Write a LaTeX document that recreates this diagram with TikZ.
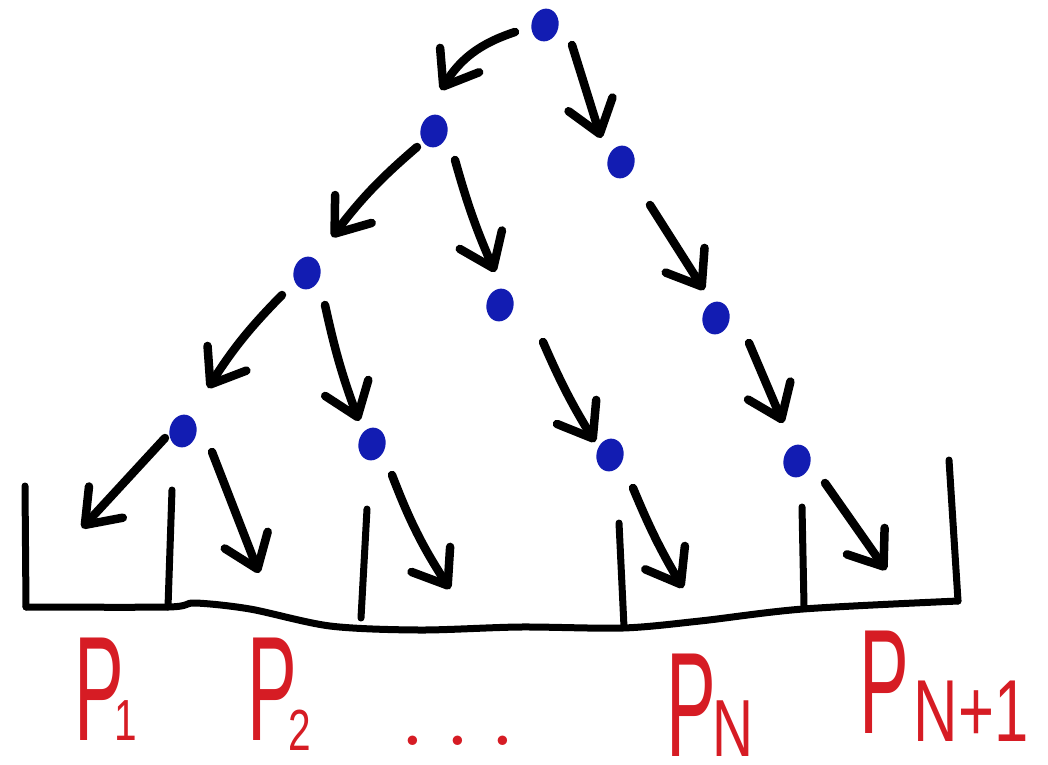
\documentclass[tikz,border=0pt]{standalone}
\usepackage{fontspec}
\setsansfont{Liberation Sans}
\usetikzlibrary{arrows.meta,shapes.geometric,calc}
\definecolor{dotblue}{RGB}{18,28,178}
\definecolor{labred}{RGB}{214,28,36}
\newcommand{\bigP}{\scalebox{0.5}[1]{\fontsize{149pt}{149pt}\selectfont P}}
\newcommand{\subtxt}[2]{\scalebox{0.7}[1]{\fontsize{#1}{#1}\selectfont #2}}
\newcommand{\nodepth}[1]{\raisebox{0pt}[\height][0pt]{#1}}
\begin{document}
\begin{tikzpicture}[x=1pt,y=-1pt,
  dot/.style={ellipse, fill=dotblue, draw=none, inner sep=0pt, minimum width=27pt, minimum height=33pt, rotate=-12},
  arr/.style={line width=8.5pt, line cap=round, -{Straight Barb[length=31pt,width=46pt,round]}},
  bin/.style={line width=7pt, line cap=round, line join=round},
  lab/.style={text=labred, inner sep=0pt, anchor=base west, font=\sffamily}]
\useasboundingbox (0,0) rectangle (1048,764);
\fill[white] (0,0) rectangle (1048,764);
% dots
\node[dot] (d0) at (545,25) {};
\node[dot] (d1a) at (434,131) {};
\node[dot] (d1b) at (621,162) {};
\node[dot] (d2a) at (307,273) {};
\node[dot] (d2b) at (500,305) {};
\node[dot] (d2c) at (716,318) {};
\node[dot] (d3a) at (183,431) {};
\node[dot] (d3b) at (372,444) {};
\node[dot] (d3c) at (610,455) {};
\node[dot] (d3d) at (797,461) {};
% free ends
\coordinate (e1) at (82,528);
\coordinate (e2) at (259,573);
\coordinate (e3) at (450,589);
\coordinate (e4) at (683,588);
\coordinate (e5) at (886,570);
% arrows between dots
\draw[arr] ($(d0)+(-30,7)$) to[bend right=20] ($(d1a)+(7,-41)$);
\draw[arr] ($(d0)+(27,20)$) -- ($(d1b)+(-20,-24)$);
\draw[arr] ($(d1a)+(-17,16)$) to[bend right=6] ($(d2a)+(25,-36)$);
\draw[arr] ($(d1a)+(21,29)$) to[bend right=4] ($(d2b)+(-5,-33)$);
\draw[arr] ($(d1b)+(29,43)$) -- ($(d2c)+(-12,-28)$);
\draw[arr] ($(d2a)+(-25,22)$) to[bend right=6] ($(d3a)+(25,-43)$);
\draw[arr] ($(d2a)+(18,32)$) to[bend right=4] ($(d3b)+(-13,-23)$);
\draw[arr] ($(d2b)+(43,37)$) to[bend right=4] ($(d3c)+(-15,-13)$);
\draw[arr] ($(d2c)+(33,25)$) -- ($(d3d)+(-14,-38)$);
% arrows into bins
\draw[arr] ($(d3a)+(-18,7)$) -- (e1);
\draw[arr] ($(d3a)+(29,21)$) -- (e2);
\draw[arr] ($(d3b)+(20,31)$) to[bend right=6] (e3);
\draw[arr] ($(d3c)+(23,33)$) to[bend right=4] (e4);
\draw[arr] ($(d3d)+(28,22)$) -- (e5);
% bins
\draw[bin] (25,486) -- (26,607);
\draw[bin] plot[smooth, tension=0.5] coordinates {(26,607) (168,607) (195,603) (250,609) (330,626) (420,630) (520,627) (623,628) (700,621) (803,609) (958,601)};
\draw[bin] (958,601) -- (949,460);
\draw[bin] (172,490) -- (168,607);
\draw[bin] (367,509) -- (361,618);
\draw[bin] (619,523) -- (624,627);
\draw[bin] (802,507) -- (804,606);
% labels
\node[lab] (p1) at (74,740) {\nodepth{\bigP\hspace{-9pt}\subtxt{58pt}{1}}};
\node[lab] (p2) at (247,740) {\nodepth{\bigP\hspace{-8pt}\raisebox{-10pt}{\subtxt{58pt}{2}}}};
\node[lab, anchor=base, font=\rmfamily] (dots) at (458,745) {\nodepth{\fontsize{115pt}{115pt}\selectfont .\hspace{16pt}.\hspace{16pt}.}};
\node[lab] (pn) at (666,756) {\nodepth{\bigP\hspace{-3pt}\subtxt{81pt}{N}}};
\node[lab] (pn1) at (859,733) {\nodepth{\bigP\hspace{5pt}\raisebox{-8pt}{\subtxt{88pt}{N+1}}}};
\end{tikzpicture}
\end{document}
